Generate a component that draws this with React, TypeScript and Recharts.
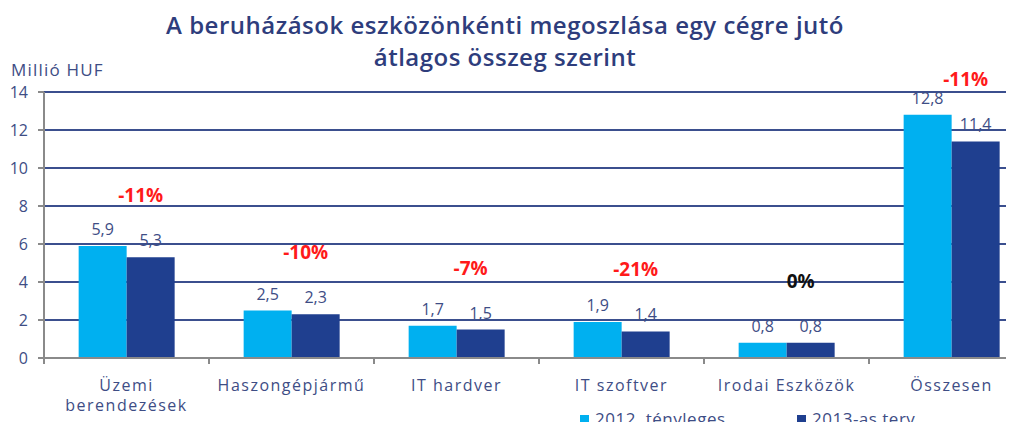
import React from 'react';
import { Bar, BarChart, XAxis, YAxis, CartesianGrid, Legend, LabelList } from 'recharts';

const categories = ['Üzemi\nberendezések', 'Haszongépjármű', 'IT hardver', 'IT szoftver', 'Irodai Eszközök', 'Összesen'];
const actual2012 = [5.9, 2.5, 1.7, 1.9, 0.8, 12.8];
const plan2013 = [5.3, 2.3, 1.5, 1.4, 0.8, 11.4];
const changes = ['-11%', '-10%', '-7%', '-21%', '0%', '-11%'];
const yTicks = [0, 2, 4, 6, 8, 10, 12, 14];
const seriesNames = ['2012. tényleges', '2013-as terv'];

const data = categories.map((name, i) => ({
  name,
  actual: actual2012[i],
  plan: plan2013[i],
  change: changes[i],
}));

const FONT = '"Open Sans", "Noto Sans", sans-serif';
const LIGHT = '#00b0f0';
const DARK = '#1f3f8f';
const TEXT = '#3e4d85';
const GRID = '#3b4f8e';

const CHART_W = 1042;
const PLOT_LEFT = 44;
const PLOT_RIGHT_MARGIN = 8;
const BAND = (CHART_W - PLOT_LEFT - PLOT_RIGHT_MARGIN) / categories.length;

const fmt = (v: any) => Number(v).toFixed(1).replace('.', ',');

const CategoryTick = ({ x, y, payload }: any) => {
  const lines = String(payload.value).split('\n');
  return (
    <g>
      <line x1={x - BAND / 2} x2={x - BAND / 2} y1={y} y2={y + 6} stroke="#8a8a8a" strokeWidth={2} />
      {lines.map((l, i) => (
        <text
          key={i}
          x={x}
          y={y + 33 + i * 20}
          textAnchor="middle"
          fill={TEXT}
          fontSize={16}
          letterSpacing={1.5}
          fontFamily={FONT}
        >
          {l}
        </text>
      ))}
    </g>
  );
};

const ChangeLabel = (props: any) => {
  const { x, y, width, value } = props;
  const isNeg = String(value).startsWith('-');
  return (
    <text
      x={x + width / 2 - 10}
      y={y - 55}
      textAnchor="middle"
      fill={isNeg ? '#ff1a1a' : '#111111'}
      fontSize={19}
      fontWeight={700}
      fontFamily={FONT}
    >
      {value}
    </text>
  );
};

const LegendContent = () => (
  <div style={{ display: 'flex', fontFamily: FONT, fontSize: 17, letterSpacing: 0.5, color: TEXT, lineHeight: '20px' }}>
    {seriesNames.map((s, i) => (
      <div key={s} style={{ display: 'flex', alignItems: 'center', width: 217 }}>
        <span style={{ display: 'inline-block', width: 9, height: 9, background: i === 0 ? LIGHT : DARK, marginRight: 6 }} />
        <span>{s}</span>
      </div>
    ))}
  </div>
);

export default function App() {
  return (
    <div style={{ position: 'relative', width: 1014, height: 430, margin: -8, overflow: 'hidden', background: '#fff' }}>
      <div
        style={{
          position: 'absolute',
          top: 9,
          left: 0,
          width: 1010,
          textAlign: 'center',
          fontFamily: FONT,
          fontSize: 24,
          fontWeight: 600,
          letterSpacing: 0.5,
          color: '#2e3d7c',
          lineHeight: '32px',
        }}
      >
        A beruházások eszközönkénti megoszlása egy cégre jutó
        <br />
        átlagos összeg szerint
      </div>
      <div
        style={{ position: 'absolute', top: 58, left: 11, fontFamily: FONT, fontSize: 17, letterSpacing: 1.2, color: TEXT, lineHeight: '24px' }}
      >
        Millió HUF
      </div>
      <div style={{ position: 'absolute', top: 0, left: 0 }}>
        <BarChart
          width={CHART_W}
          height={430}
          data={data}
          margin={{ top: 92, right: PLOT_RIGHT_MARGIN, left: 0, bottom: 2 }}
          barGap={0}
          barCategoryGap="21%"
        >
          <CartesianGrid vertical={false} stroke={GRID} strokeWidth={2} />
          <XAxis
            dataKey="name"
            interval={0}
            tick={<CategoryTick />}
            tickLine={false}
            tickSize={0}
            tickMargin={0}
            height={50}
            axisLine={{ stroke: '#8a8a8a', strokeWidth: 2 }}
          />
          <YAxis
            width={PLOT_LEFT}
            domain={[0, 14]}
            ticks={yTicks}
            interval={0}
            tickSize={6}
            tickMargin={10}
            tickLine={{ stroke: '#8a8a8a', strokeWidth: 2 }}
            axisLine={{ stroke: '#8a8a8a', strokeWidth: 2 }}
            tick={{ fill: TEXT, fontSize: 16, fontFamily: FONT }}
          />
          <Legend
            verticalAlign="bottom"
            content={<LegendContent />}
            wrapperStyle={{ position: 'absolute', top: 409, left: 580, width: 440, height: 20 }}
          />
          <Bar dataKey="actual" name={seriesNames[0]} fill={LIGHT} isAnimationActive={false}>
            <LabelList dataKey="actual" position="top" offset={11} formatter={fmt} fill={TEXT} fontSize={16} fontFamily={FONT} />
          </Bar>
          <Bar dataKey="plan" name={seriesNames[1]} fill={DARK} isAnimationActive={false}>
            <LabelList dataKey="plan" position="top" offset={11} formatter={fmt} fill={TEXT} fontSize={16} fontFamily={FONT} />
            <LabelList dataKey="change" content={<ChangeLabel />} />
          </Bar>
        </BarChart>
      </div>
    </div>
  );
}
